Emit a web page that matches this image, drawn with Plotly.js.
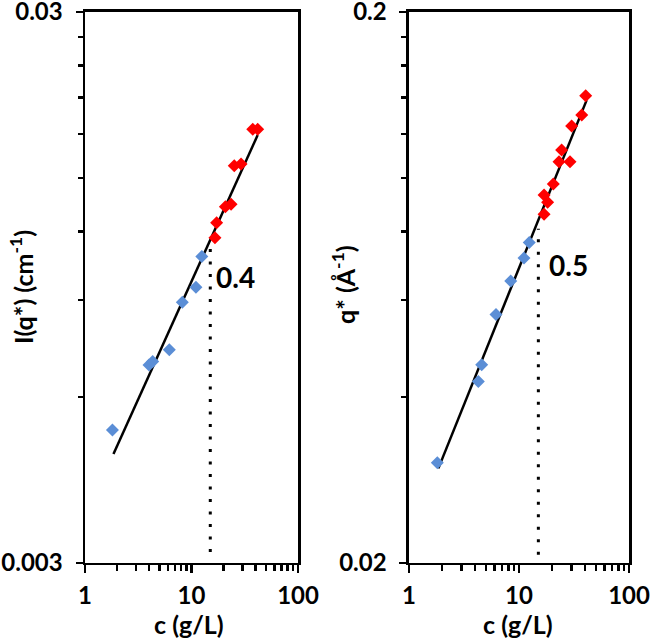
<!DOCTYPE html>
<html>
<head>
<meta charset="utf-8">
<script src="https://cdn.plot.ly/plotly-3.0.1.min.js"></script>
<style>html,body{margin:0;padding:0;background:#fff;}#chart{width:650px;height:638px;}</style>
</head>
<body>
<div id="chart"></div>
<script>
// Left panel: I(q*) vs c
const cBlueL = [1.81, 3.99, 4.32, 6.19, 8.2, 11.0, 12.5];
const iBlue  = [0.00523, 0.00686, 0.00696, 0.00731, 0.00892, 0.0095, 0.0108];
const cRedL  = [16.6, 17.2, 20.8, 23.5, 25.2, 29.2, 37.6, 41.8];
const iRed   = [0.01168, 0.01244, 0.0133, 0.01343, 0.01578, 0.0159, 0.01838, 0.01838];
const cFitL  = [1.85, 41.8];
const iFit   = [0.00473, 0.01794];
const cStarL = [15, 15];
const iStar  = [0.00314, 0.01124];

// Right panel: q* vs c
const cBlueR = [1.81, 4.27, 4.58, 6.18, 8.41, 11.1, 12.4];
const qBlue  = [0.0304, 0.0427, 0.0458, 0.0565, 0.0650, 0.0715, 0.0763];
const cRedR  = [16.9, 16.9, 18.2, 20.5, 23.1, 24.4, 29.1, 30.1, 37.2, 40.4];
const qRed   = [0.0859, 0.0931, 0.0903, 0.0975, 0.107, 0.1123, 0.107, 0.1242, 0.1301, 0.1409];
const cFitR  = [1.85, 41.2];
const qFit   = [0.0297, 0.1384];
const cStarR = [15, 15];
const qStar  = [0.0207, 0.0808];

// Ticks
const xTickVals = [1, 10, 100];
const xTickText = ['1', '10', '100'];
const xMinor = [2,3,4,5,6,7,8,9,20,30,40,50,60,70,80,90];
const yLTickVals = [0.003, 0.03];
const yLTickText = ['0.003', '0.03'];
const yLMinor = [0.006,0.009,0.012,0.015,0.018,0.021,0.024,0.027];
const yRTickVals = [0.02, 0.2];
const yRTickText = ['0.02', '0.2'];
const yRMinor = [0.04,0.06,0.08,0.1,0.12,0.14,0.16,0.18];

const FONT = 'Lato, "Open Sans", sans-serif';
const blue = '#5B8ED6', red = '#FF0000';
const mk = (c) => ({symbol: 'diamond', size: 10, color: c, line: {width: 0}});
const EPS = 1e-6;

const traces = [
  {x: cFitL, y: iFit, mode: 'lines', line: {color: '#000', width: 2.5}, xaxis: 'x', yaxis: 'y'},
  {x: cStarL, y: iStar, mode: 'lines', line: {color: '#000', width: 3, dash: '3px,9.5px'}, xaxis: 'x', yaxis: 'y'},
  {x: cBlueL, y: iBlue, mode: 'markers', marker: mk(blue), xaxis: 'x', yaxis: 'y'},
  {x: cRedL, y: iRed, mode: 'markers', marker: mk(red), xaxis: 'x', yaxis: 'y'},
  {x: cFitR, y: qFit, mode: 'lines', line: {color: '#000', width: 2.5}, xaxis: 'x2', yaxis: 'y2'},
  {x: cStarR, y: qStar, mode: 'lines', line: {color: '#000', width: 3, dash: '3px,9.5px'}, xaxis: 'x2', yaxis: 'y2'},
  {x: cBlueR, y: qBlue, mode: 'markers', marker: mk(blue), xaxis: 'x2', yaxis: 'y2'},
  {x: cRedR, y: qRed, mode: 'markers', marker: mk(red), xaxis: 'x2', yaxis: 'y2'}
];

const axBase = {
  type: 'log', showgrid: false, zeroline: false,
  showline: true, linecolor: '#000', linewidth: 2.5, mirror: true,
  ticks: 'outside', ticklen: 8, tickwidth: 2.5, tickcolor: '#000',
  tickfont: {family: FONT, size: 24, color: '#000', weight: 'bold'},
  tickmode: 'array', fixedrange: true, ticklabeloverflow: 'allow'
};
const xAx = (dom, anchor) => Object.assign({}, axBase, {
  domain: dom, anchor: anchor, range: [-EPS, 2 + EPS],
  tickvals: xTickVals, ticktext: xTickText, ticklabelstandoff: 2,
  minor: {tickmode: 'array', tickvals: xMinor, ticks: 'outside', ticklen: 6, tickwidth: 2.5, tickcolor: '#000'}
});
const yAx = (anchor, lo, hi, tv, tt, mn) => Object.assign({}, axBase, {
  domain: [0.1176, 0.9812], anchor: anchor, range: [Math.log10(lo) - EPS, Math.log10(hi) + EPS],
  tickvals: tv, ticktext: tt, ticklabelstandoff: 8, ticklen: 7,
  minor: {tickmode: 'array', tickvals: mn, ticks: 'outside', ticklen: 5, tickwidth: 2.5, tickcolor: '#000'}
});

const tf = {family: FONT, size: 25, color: '#000', weight: 'bold'};
const ann = (text, x, y, extra) => Object.assign({
  text: text, xref: 'paper', yref: 'paper', x: x, y: y,
  xanchor: 'center', yanchor: 'middle', showarrow: false, font: tf
}, extra || {});
const layout = {
  width: 650, height: 638,
  margin: {l: 0, r: 0, t: 0, b: 0},
  paper_bgcolor: '#fff', plot_bgcolor: '#fff',
  showlegend: false,
  xaxis: xAx([0.1308, 0.4585], 'y'),
  yaxis: yAx('x', 0.003, 0.03, yLTickVals, yLTickText, yLMinor),
  xaxis2: xAx([0.6292, 0.9677], 'y2'),
  yaxis2: yAx('x2', 0.02, 0.2, yRTickVals, yRTickText, yRMinor),
  annotations: [
    ann('0.4', 235/650, (638-277)/638, {font: Object.assign({}, tf, {size: 28})}),
    ann('0.5', 568/650, (638-265)/638, {font: Object.assign({}, tf, {size: 28})}),
    ann('c (g/L)', 189/650, (638-624)/638),
    ann('c (g/L)', 518/650, (638-624)/638),
    ann('I(q*) (cm<sup>-1</sup>)', 21/650, (638-287)/638, {textangle: -90}),
    ann('q* (Å<sup>-1</sup>)', 343/650, (638-285)/638, {textangle: -90})
  ]
};

Plotly.newPlot('chart', traces, layout, {displayModeBar: false, staticPlot: true});
</script>
</body>
</html>
